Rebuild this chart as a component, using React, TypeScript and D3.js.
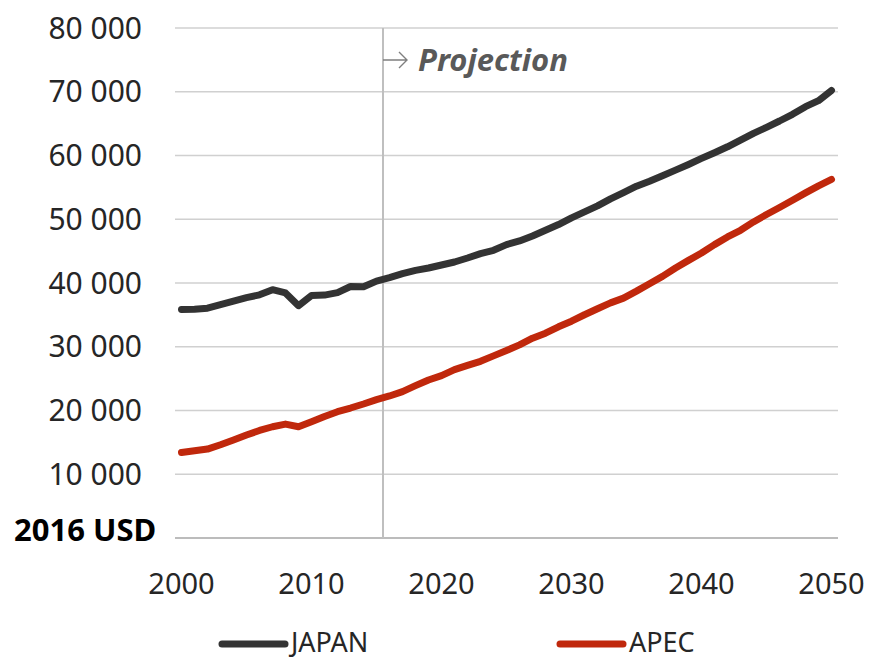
import * as d3 from "d3";
import { useEffect, useRef } from "react";

const years = d3.range(2000, 2051);

const japan = [
  35850, 35900, 36050, 36600, 37150, 37700, 38150, 38950, 38450, 36450,
  38050, 38100, 38500, 39450, 39400, 40300, 40830, 41460, 41980, 42350,
  42820, 43290, 43920, 44600, 45130, 46020, 46590, 47380, 48270, 49170,
  50210, 51150, 52100, 53200, 54190, 55190, 55970, 56810, 57700, 58600,
  59540, 60430, 61370, 62420, 63470, 64420, 65410, 66460, 67660, 68600,
  70200,
];

const apec = [
  13400, 13680, 13950, 14620, 15360, 16150, 16870, 17450, 17870, 17450,
  18240, 19070, 19810, 20390, 21020, 21700, 22280, 22960, 23900, 24790,
  25470, 26420, 27090, 27720, 28570, 29400, 30300, 31340, 32120, 33130,
  34010, 35020, 35960, 36880, 37630, 38730, 39890, 41040, 42350, 43550,
  44700, 46020, 47220, 48270, 49580, 50740, 51840, 52990, 54140, 55240,
  56240,
];

const yTicks = [10000, 20000, 30000, 40000, 50000, 60000, 70000, 80000];
const xTicks = [2000, 2010, 2020, 2030, 2040, 2050];
const projectionStart = 2015.5;

const seriesNames = ["JAPAN", "APEC"];
const seriesColors = ["#333333", "#c0280c"];

export default function App() {
  const ref = useRef<SVGSVGElement>(null);

  useEffect(() => {
    if (!ref.current) return;
    const svg = d3.select(ref.current);
    svg.selectAll("*").remove();

    const width = 871;
    const height = 660;
    svg.attr("width", width).attr("height", height);

    const font = "'Noto Sans', 'Open Sans', sans-serif";

    // category-style x axis: half a year of padding at both ends
    const x = d3.scaleLinear().domain([1999.5, 2050.5]).range([175, 838]);
    const y = d3.scaleLinear().domain([0, 80000]).range([538, 28]);

    // gridlines
    svg.append("g")
      .selectAll("line")
      .data(yTicks)
      .join("line")
      .attr("x1", x(1999.5))
      .attr("x2", x(2050.5))
      .attr("y1", d => y(d))
      .attr("y2", d => y(d))
      .attr("stroke", "#d0d0d0")
      .attr("stroke-width", 1.5);

    // baseline
    svg.append("line")
      .attr("x1", x(1999.5))
      .attr("x2", x(2050.5))
      .attr("y1", y(0))
      .attr("y2", y(0))
      .attr("stroke", "#a6a6a6")
      .attr("stroke-width", 1.5);

    // projection marker
    svg.append("line")
      .attr("x1", x(projectionStart))
      .attr("x2", x(projectionStart))
      .attr("y1", y(80000))
      .attr("y2", y(0))
      .attr("stroke", "#bfbfbf")
      .attr("stroke-width", 2);

    const ax = x(projectionStart);
    svg.append("path")
      .attr("d", `M${ax},60 H${ax + 24} M${ax + 16},52 L${ax + 24},60 L${ax + 16},68`)
      .attr("fill", "none")
      .attr("stroke", "#7f7f7f")
      .attr("stroke-width", 1.4);

    svg.append("text")
      .attr("x", ax + 35)
      .attr("y", 71)
      .attr("fill", "#595959")
      .attr("font-family", font)
      .attr("font-size", "31px")
      .attr("font-weight", "bold")
      .attr("font-style", "italic")
      .text("Projection");

    // y tick labels
    svg.append("g")
      .selectAll("text")
      .data(yTicks)
      .join("text")
      .attr("x", 142)
      .attr("y", d => y(d) + 10.5)
      .attr("text-anchor", "end")
      .attr("fill", "#262626")
      .attr("font-family", font)
      .attr("font-size", "30px")
      .text(d => d3.format(",")(d).replace(",", " "));

    svg.append("text")
      .attr("x", 14)
      .attr("y", 541)
      .attr("fill", "#000")
      .attr("font-family", font)
      .attr("font-size", "31px")
      .attr("font-weight", "bold")
      .text("2016 USD");

    // x tick labels
    svg.append("g")
      .selectAll("text")
      .data(xTicks)
      .join("text")
      .attr("x", d => x(d))
      .attr("y", 594)
      .attr("text-anchor", "middle")
      .attr("fill", "#262626")
      .attr("font-family", font)
      .attr("font-size", "29px")
      .text(d => d);

    // lines
    const line = d3.line<number>()
      .x((_, i) => x(years[i]))
      .y(d => y(d));

    [japan, apec].forEach((values, i) => {
      svg.append("path")
        .datum(values)
        .attr("d", line)
        .attr("fill", "none")
        .attr("stroke", seriesColors[i])
        .attr("stroke-width", 7)
        .attr("stroke-linejoin", "round")
        .attr("stroke-linecap", "round");
    });

    // legend
    const legendX = [222, 560];
    seriesNames.forEach((name, i) => {
      const g = svg.append("g").attr("transform", `translate(${legendX[i]}, 644)`);
      g.append("line")
        .attr("x1", 0)
        .attr("x2", 63)
        .attr("stroke", seriesColors[i])
        .attr("stroke-width", 7)
        .attr("stroke-linecap", "round");
      g.append("text")
        .attr("x", 69)
        .attr("y", 8)
        .attr("fill", "#262626")
        .attr("font-family", font)
        .attr("font-size", "27px")
        .text(name);
    });
  }, []);

  return (
    <svg
      ref={ref}
      style={{ position: "absolute", left: 0, top: 0, background: "#fff" }}
    />
  );
}
